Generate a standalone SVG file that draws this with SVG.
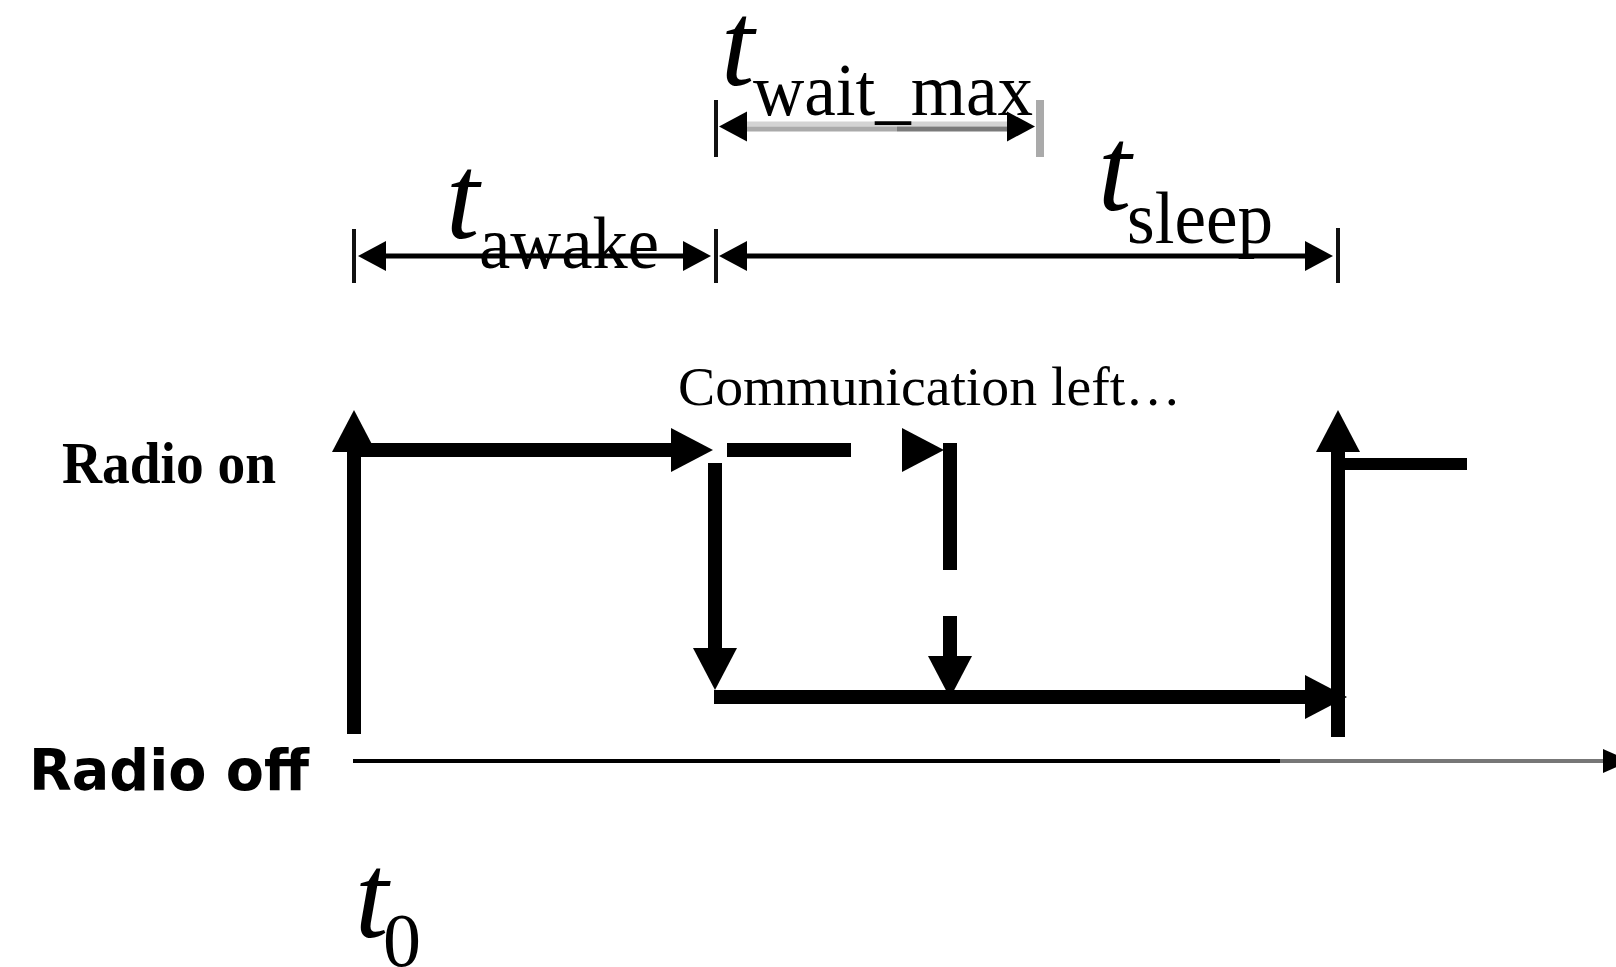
<svg xmlns="http://www.w3.org/2000/svg" width="1616" height="967" viewBox="0 0 1616 967">
<style>
.thick{fill:none;stroke:#000;stroke-width:14;stroke-linecap:butt}
.dim{fill:none;stroke:#000;stroke-width:5}
.tick{fill:none;stroke:#111;stroke-width:4}
.axis{fill:none;stroke-width:4}
.tl{font-family:"Liberation Serif",serif;font-style:italic;font-size:120px;fill:#000}
.sub{font-family:"Liberation Serif",serif;font-size:74px;fill:#000}
.lbl{font-family:"Liberation Serif",serif;font-weight:bold;font-size:60px;fill:#000}
.lbls{font-family:"DejaVu Sans",sans-serif;font-weight:bold;font-size:57px;fill:#000}
.note{font-family:"Liberation Serif",serif;font-size:54px;fill:#000}
</style>
<defs>
<marker id="ah" markerUnits="userSpaceOnUse" markerWidth="44" markerHeight="44" refX="0" refY="22" orient="auto" overflow="visible"><path d="M0,0 L42,22 L0,44 Z" fill="#000"/></marker>
<marker id="sa" markerUnits="userSpaceOnUse" markerWidth="30" markerHeight="30" refX="0" refY="15" orient="auto-start-reverse" overflow="visible"><path d="M0,0 L28,15 L0,30 Z" fill="#000"/></marker>
</defs>
<rect width="1616" height="967" fill="#fff"/>

<g id="connectors">
<!-- radio state waveform -->
<path class="thick" d="M354,734 L354,452" marker-end="url(#ah)"/>
<path class="thick" d="M347,450 L671,450" marker-end="url(#ah)"/>
<path class="thick" d="M727,450 L851,450"/>
<path d="M901,450 L902,450" fill="none" stroke="none" marker-end="url(#ah)"/>
<path class="thick" d="M950,443 L950,570"/>
<path class="thick" d="M950,616 L950,656" marker-end="url(#ah)"/>
<path class="thick" d="M715,463 L715,648" marker-end="url(#ah)"/>
<path class="thick" d="M714,697 L1305,697" marker-end="url(#ah)"/>
<path class="thick" d="M1338,737 L1338,452" marker-end="url(#ah)"/>
<path class="thick" d="M1338,464 L1467,464" style="stroke-width:12"/>
<!-- time axis -->
<path class="axis" d="M353,761 L1280,761" stroke="#000"/>
<path class="axis" d="M1280,761 L1604,761" stroke="#777"/>
<polygon points="1603,749 1630,761 1603,773" fill="#000"/>
<!-- dimension lines -->
<path class="dim" d="M386,256 L683,256" marker-start="url(#sa)" marker-end="url(#sa)"/>
<path class="dim" d="M747,256 L1305,256" marker-start="url(#sa)" marker-end="url(#sa)"/>
<path d="M747,124 L1007,124" fill="none" stroke="#d3d3d3" stroke-width="5"/>
<path d="M747,129 L897,129" fill="none" stroke="#aaa" stroke-width="5"/>
<path d="M897,129 L1007,129" fill="none" stroke="#7a7a7a" stroke-width="5"/>
<path d="M747,126.5 L1007,126.5" fill="none" stroke="none" marker-start="url(#sa)" marker-end="url(#sa)"/>
<path class="tick" d="M354,229 L354,283"/>
<path class="tick" d="M716,229 L716,283"/>
<path class="tick" d="M1338,228 L1338,283"/>
<path class="tick" d="M716,100 L716,157"/>
<path d="M1040,100 L1040,157" fill="none" stroke="#aaa" stroke-width="8"/>
</g>

<g id="t-awake"><text class="tl" x="446" y="238">t</text><text class="sub" x="479" y="268" textLength="180" lengthAdjust="spacingAndGlyphs">awake</text></g>
<g id="t-wait-max"><text class="tl" x="721" y="85">t</text><text class="sub" x="753" y="115" textLength="280" lengthAdjust="spacingAndGlyphs">wait_max</text></g>
<g id="t-sleep"><text class="tl" x="1098" y="210">t</text><text class="sub" x="1127" y="243" textLength="146" lengthAdjust="spacingAndGlyphs">sleep</text></g>
<g id="t-0"><text class="tl" x="355" y="937">t</text><text class="sub" x="383" y="966" style="font-size:76px">0</text></g>
<g id="radio-on"><text class="lbl" x="62" y="483" textLength="214" lengthAdjust="spacingAndGlyphs">Radio on</text></g>
<g id="radio-off"><text class="lbls" x="29" y="790" textLength="280" lengthAdjust="spacingAndGlyphs">Radio off</text></g>
<g id="comm-left"><text class="note" x="678" y="405" textLength="503" lengthAdjust="spacingAndGlyphs">Communication left…</text></g>
</svg>
